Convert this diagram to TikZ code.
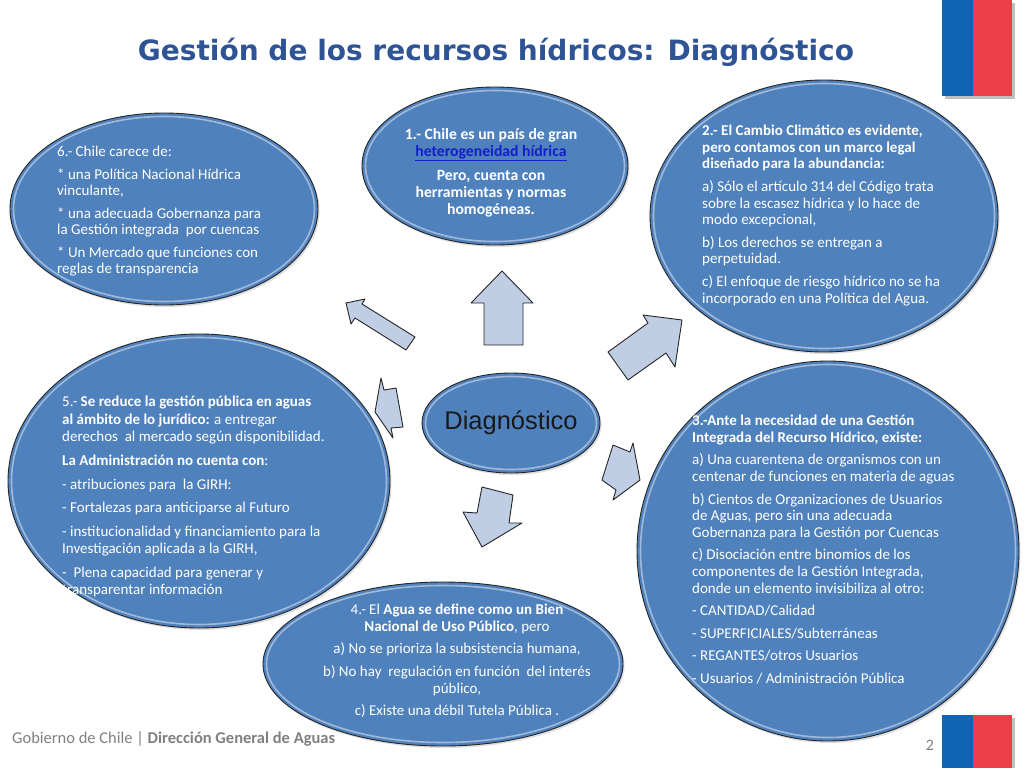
\documentclass[tikz,border=0pt]{standalone}
\usepackage{fontspec}
\setmainfont{Carlito}
\newfontfamily\titlefont{DejaVu Sans}
\newfontfamily\arialfont{Liberation Sans}
\usetikzlibrary{shapes.geometric,shadows}
\definecolor{bubfill}{HTML}{4F81BD}
\definecolor{arwfill}{RGB}{192,206,229}
\definecolor{titleblue}{RGB}{47,84,150}
\definecolor{linkblue}{RGB}{20,30,200}
\definecolor{flagblue}{RGB}{16,100,180}
\definecolor{flagred}{RGB}{236,62,70}
\tikzset{
  bub/.style={ellipse, draw=black!85, line width=0.9, fill=bubfill, inner sep=0, outer sep=0,
     drop shadow={opacity=0.25, shadow xshift=1.5pt, shadow yshift=-2pt}},
  rim/.style={draw=white, opacity=0.45, line width=1.6},
  arw/.style={draw=black!85, line width=0.9, fill=arwfill, line join=round},
  txt/.style={text=white, align=left, inner sep=0, font=\fontsize{15}{16.6}\selectfont},
  foot/.style={text=black!50, inner sep=0}
}
\newcommand\bubble[5]{%
  \node[bub, minimum width=2*#4, minimum height=2*#5] (#1) at (#2,#3) {};
  \draw[rim] (#2,#3) ellipse [x radius=#4-3.5, y radius=#5-3.5];
}
\begin{document}
\begin{tikzpicture}[x=1pt,y=-1pt]
\useasboundingbox[fill=white] (0,0) rectangle (1024,768);

% flags
\fill[black!25] (945,3) rectangle (1015,99);
\fill[flagblue] (942,0) rectangle (973,96);
\fill[flagred] (973,0) rectangle (1012,96);

% title
\node[font=\titlefont\bfseries\fontsize{28}{32}\selectfont, text=titleblue] (title) at (496,52)
  {Gestión de los recursos hídricos: Diagnóstico};

% bubbles
\bubble{e6}{164}{209}{154}{96}
\bubble{e1}{495}{166}{133}{79}
\bubble{e2}{824}{216}{174}{136}
\bubble{e5}{199}{481}{191}{147}
\bubble{e3}{828}{551}{191}{190}
\bubble{e4}{443}{664}{180}{82}
\bubble{ec}{511}{423}{89}{50}

% block arrows
\draw[arw] (484,345) -- (484,303) -- (471,303) -- (502,271) -- (533,303) -- (523,303) -- (523,345) -- cycle;
\draw[arw] (415,337) -- (362,304) -- (365,299) -- (346,303) -- (351,324) -- (355,318) -- (406,350) -- cycle;
\draw[arw] (608,352) -- (648,323) -- (643,315) -- (682,320) -- (675,367) -- (666,353) -- (628,380) -- cycle;
\draw[arw] (375,412) -- (381,378) -- (384,390) -- (396,388) -- (403,427) -- (391,428) -- (393,438) -- cycle;
\draw[arw] (602,480) -- (613,445) -- (630,452) -- (633,443) -- (640,480) -- (613,500) -- (616,490) -- cycle;
\draw[arw] (482,487) -- (513,495) -- (509,523) -- (522,523) -- (482,547) -- (463,512) -- (477,513) -- cycle;

% centre label
\node[font=\arialfont\fontsize{25.5}{28}\selectfont, text=black!90] (diag) at (ec) {Diagnóstico};

% texts
\node[txt, anchor=north west, font=\fontsize{15}{16.3}\selectfont] (t6) at (57,146) {6.- Chile carece de:\\[6.5pt]
* una Política Nacional Hídrica\\ vinculante,\\[6.5pt]
* una adecuada Gobernanza para\\ la Gestión integrada\ \ por cuencas\\[6.5pt]
* Un Mercado que funciones con\\ reglas de transparencia};

\node[txt, align=center, anchor=north, font=\bfseries\fontsize{15.7}{17.2}\selectfont] (t1) at (491,128) {1.- Chile es un país de gran\\
\textcolor{linkblue}{\underline{heterogeneidad hídrica}}\\[6.5pt]
Pero, cuenta con\\ herramientas y normas\\ homogéneas.};

\node[txt, anchor=north west] (t2) at (702,125) {\textbf{2.- El Cambio Climático es evidente,}\\
\textbf{pero contamos con un marco legal}\\ \textbf{diseñado para la abundancia:}\\[6pt]
a) Sólo el artículo 314 del Código trata\\ sobre la escasez hídrica y lo hace de\\ modo excepcional,\\[6pt]
b) Los derechos se entregan a\\ perpetuidad.\\[6pt]
c) El enfoque de riesgo hídrico no se ha\\ incorporado en una Política del Agua.};

\node[txt, anchor=north west, font=\fontsize{15}{17.3}\selectfont] (t5) at (62,396) {5.- \textbf{Se reduce la gestión pública en aguas}\\
\textbf{al ámbito de lo jurídico:} a entregar\\ derechos\ \ al mercado según disponibilidad.\\[7pt]
\textbf{La Administración no cuenta con}:\\[7pt]
- atribuciones para\ \ la GIRH:\\[5pt]
- Fortalezas para anticiparse al Futuro\\[7pt]
- institucionalidad y financiamiento para la\\ Investigación aplicada a la GIRH,\\[6pt]
-\ \ Plena capacidad para generar y\\ transparentar información};

\node[txt, anchor=north west] (t3) at (692,415) {\textbf{3.-Ante la necesidad de una Gestión}\\
\textbf{Integrada del Recurso Hídrico, existe:}\\[6pt]
a) Una cuarentena de organismos con un\\ centenar de funciones en materia de aguas\\[6pt]
b) Cientos de Organizaciones de Usuarios\\ de Aguas, pero sin una adecuada\\ Gobernanza para la Gestión por Cuencas\\[6pt]
c) Disociación entre binomios de los\\ componentes de la Gestión Integrada,\\ donde un elemento invisibiliza al otro:\\[6pt]
- CANTIDAD/Calidad\\[6pt]
- SUPERFICIALES/Subterráneas\\[6pt]
- REGANTES/otros Usuarios\\[6pt]
- Usuarios / Administración Pública};

\node[txt, align=center, anchor=north] (t4) at (457,604) {4.- El \textbf{Agua se define como un Bien}\\
\textbf{Nacional de Uso Público}, pero\\[6pt]
a) No se prioriza la subsistencia humana,\\[6pt]
b) No hay\ \ regulación en función\ \ del interés\\ público,\\[6pt]
c) Existe una débil Tutela Pública .};

% footer
\node[foot, anchor=west, font=\fontsize{16.5}{18}\selectfont] (ft) at (12,739)
  {Gobierno de Chile | \textbf{Dirección General de Aguas}};
\fill[black!25] (945,718) rectangle (1015,768);
\fill[flagblue] (942,715) rectangle (973,768);
\fill[flagred] (973,715) rectangle (1012,768);
\node[foot, font=\fontsize{16}{18}\selectfont] (pg) at (930,745) {2};
\end{tikzpicture}
\end{document}
